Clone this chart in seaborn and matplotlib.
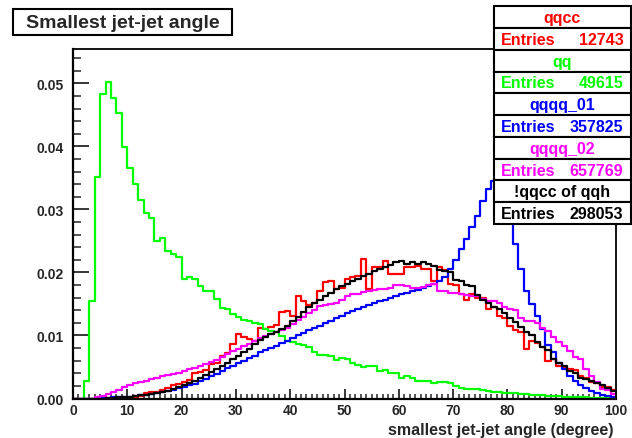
import numpy as np
import pandas as pd
import matplotlib
matplotlib.use("Agg")
import matplotlib.pyplot as plt
import seaborn as sns
from matplotlib.patches import Rectangle
from matplotlib.ticker import MultipleLocator, FormatStrFormatter

# ---------------- data ----------------
bin_edges = list(range(0, 101))

qqcc = [0,0,0,0,0,0,0,0,0,0,
 0,0.0002,0.0004,0.0008,0.0010,0.0010,0.0014,0.0016,0.0022,0.0023,
 0.0026,0.0030,0.0040,0.0042,0.0045,0.0055,0.0056,0.0068,0.0072,0.0086,
 0.0102,0.0097,0.0094,0.0092,0.0112,0.0110,0.0113,0.0116,0.0137,0.0139,
 0.0131,0.0163,0.0155,0.0149,0.0152,0.0171,0.0185,0.0186,0.0173,0.0176,
 0.0189,0.0192,0.0194,0.0222,0.0173,0.0208,0.0208,0.0218,0.0197,0.0197,
 0.0197,0.0208,0.0208,0.0210,0.0206,0.0206,0.0186,0.0208,0.0204,0.0181,
 0.0180,0.0165,0.0157,0.0165,0.0160,0.0160,0.0142,0.0145,0.0131,0.0128,
 0.0115,0.0108,0.0105,0.0079,0.0092,0.0088,0.0082,0.0060,0.0063,0.0052,
 0.0050,0.0047,0.0046,0.0036,0.0033,0.0026,0.0025,0.0018,0.0018,0.0013]

qq = [0,0,0.0027,0.0154,0.0351,0.0483,0.0502,0.0477,0.0453,0.0399,
 0.0366,0.0341,0.0315,0.0295,0.0287,0.0250,0.0254,0.0234,0.0229,0.0224,
 0.0189,0.0192,0.0189,0.0179,0.0170,0.0170,0.0158,0.0144,0.0142,0.0134,
 0.0129,0.0125,0.0123,0.0120,0.0118,0.0110,0.0107,0.0106,0.0099,0.0092,
 0.0090,0.0087,0.0085,0.0081,0.0073,0.0069,0.0069,0.0068,0.0061,0.0065,
 0.0063,0.0057,0.0053,0.0050,0.0052,0.0052,0.0044,0.0046,0.0041,0.0040,
 0.0032,0.0035,0.0032,0.0028,0.0028,0.0027,0.0025,0.0026,0.0026,0.0024,
 0.0020,0.0017,0.0015,0.0015,0.0015,0.0013,0.0012,0.0010,0.0010,0.0009,
 0.0008,0.0008,0.0007,0.0007,0.0006,0.0005,0.0005,0.0004,0.0004,0.0004,
 0.0003,0.0003,0.0002,0.0002,0.0002,0.0001,0.0001,0.0001,0.0001,0.0001]

qqqq_01 = [0,0,0,0,0,0.0001,0.0001,0.0002,0.0002,0.0003,
 0.0003,0.0004,0.0005,0.0006,0.0007,0.0009,0.0010,0.0012,0.0014,0.0017,
 0.0019,0.0021,0.0023,0.0027,0.0031,0.0035,0.0039,0.0044,0.0048,0.0052,
 0.0056,0.0060,0.0064,0.0068,0.0073,0.0077,0.0080,0.0084,0.0088,0.0092,
 0.0096,0.0100,0.0104,0.0108,0.0112,0.0115,0.0119,0.0123,0.0127,0.0131,
 0.0135,0.0139,0.0142,0.0145,0.0148,0.0151,0.0154,0.0157,0.0160,0.0162,
 0.0165,0.0167,0.0170,0.0172,0.0175,0.0178,0.0181,0.0186,0.0193,0.0205,
 0.0220,0.0237,0.0253,0.0272,0.0290,0.0313,0.0333,0.0345,0.0360,0.0365,
 0.0330,0.0245,0.0205,0.0170,0.0150,0.0131,0.0110,0.0085,0.0073,0.0057,
 0.0047,0.0036,0.0027,0.0021,0.0016,0.0012,0.0009,0.0006,0.0004,0.0003]

qqqq_02 = [0,0,0,0,0.0002,0.0004,0.0007,0.0010,0.0013,0.0018,
 0.0022,0.0024,0.0026,0.0028,0.0031,0.0033,0.0035,0.0037,0.0039,0.0041,
 0.0044,0.0047,0.0049,0.0052,0.0055,0.0058,0.0061,0.0066,0.0071,0.0075,
 0.0079,0.0083,0.0087,0.0091,0.0096,0.0099,0.0102,0.0105,0.0108,0.0112,
 0.0118,0.0124,0.0130,0.0136,0.0141,0.0146,0.0148,0.0150,0.0152,0.0157,
 0.0162,0.0166,0.0166,0.0169,0.0171,0.0172,0.0173,0.0173,0.0176,0.0180,
 0.0180,0.0178,0.0176,0.0176,0.0177,0.0180,0.0181,0.0171,0.0171,0.0168,
 0.0168,0.0166,0.0164,0.0163,0.0162,0.0158,0.0155,0.0155,0.0152,0.0145,
 0.0142,0.0140,0.0128,0.0123,0.0123,0.0120,0.0112,0.0107,0.0097,0.0090,
 0.0083,0.0075,0.0066,0.0062,0.0047,0.0036,0.0026,0.0015,0.0013,0.0007]

not_qqcc_of_qqh = [0,0,0,0,0,0,0.0001,0.0001,0.0002,0.0002,
 0.0003,0.0004,0.0005,0.0006,0.0007,0.0009,0.0010,0.0012,0.0015,0.0018,
 0.0021,0.0024,0.0028,0.0032,0.0037,0.0042,0.0047,0.0052,0.0057,0.0062,
 0.0068,0.0073,0.0079,0.0086,0.0093,0.0098,0.0102,0.0106,0.0110,0.0115,
 0.0123,0.0130,0.0137,0.0145,0.0152,0.0157,0.0162,0.0168,0.0173,0.0178,
 0.0182,0.0186,0.0190,0.0194,0.0198,0.0202,0.0205,0.0209,0.0212,0.0216,
 0.0218,0.0214,0.0216,0.0214,0.0216,0.0214,0.0210,0.0204,0.0202,0.0200,
 0.0188,0.0186,0.0180,0.0178,0.0164,0.0157,0.0152,0.0145,0.0142,0.0136,
 0.0128,0.0121,0.0113,0.0105,0.0100,0.0090,0.0082,0.0077,0.0063,0.0056,
 0.0052,0.0044,0.0040,0.0033,0.0031,0.0027,0.0024,0.0021,0.0016,0.0012]

series_names = ["qqcc", "qq", "qqqq_01", "qqqq_02", "!qqcc of qqh"]
series_entries = [12743, 49615, 357825, 657769, 298053]
series_values = [qqcc, qq, qqqq_01, qqqq_02, not_qqcc_of_qqh]
series_colors = ["#ff0000", "#00ff00", "#0000ff", "#ff00ff", "#000000"]

title_text = "Smallest jet-jet angle"
x_label = "smallest jet-jet angle (degree)"

# ---------------- style ----------------
sns.set_style("white")
plt.rcParams["font.family"] = ["Liberation Sans", "DejaVu Sans"]
plt.rcParams["font.weight"] = "bold"

W, H = 632, 439
fig = plt.figure(figsize=(W / 100, H / 100), dpi=100)
fig.patch.set_facecolor("white")

def fx(px):
    return px / W

def fy(py):
    return 1 - py / H

ax_l, ax_r, ax_t, ax_b = 73, 616, 50, 399.5
ax = fig.add_axes([fx(ax_l), fy(ax_b), (ax_r - ax_l) / W, (ax_b - ax_t) / H])
ax.set_facecolor("white")

edges = np.array(bin_edges, dtype=float)
centers = edges[:-1] + np.diff(edges) / 2
bw = float(edges[1] - edges[0])
brange = (float(edges[0]), float(edges[-1]))

for vals, col in zip(series_values, series_colors):
    df = pd.DataFrame({"angle": centers, "w": np.asarray(vals, dtype=float)})
    sns.histplot(data=df, x="angle", weights="w", binwidth=bw, binrange=brange,
                 element="step", fill=False, color=col, linewidth=1.6, ax=ax)

ax.set_xlim(0, 100)
ax.set_ylim(0, 0.05544)
ax.set_xlabel("")
ax.set_ylabel("")

ax.xaxis.set_major_locator(MultipleLocator(10))
ax.xaxis.set_minor_locator(MultipleLocator(1))
ax.yaxis.set_major_locator(MultipleLocator(0.01))
ax.yaxis.set_minor_locator(MultipleLocator(0.002))
ax.yaxis.set_major_formatter(FormatStrFormatter("%.2f"))
ax.xaxis.set_major_formatter(FormatStrFormatter("%d"))

ax.tick_params(axis="y", which="major", direction="in", length=11.5, width=1.3,
               labelsize=10, pad=7, left=True, right=False)
ax.tick_params(axis="y", which="minor", direction="in", length=6, width=1.1,
               left=True, right=False)
ax.tick_params(axis="x", which="major", direction="in", length=7.5, width=1.3,
               labelsize=10, pad=3, bottom=True, top=False)
ax.tick_params(axis="x", which="minor", direction="in", length=3.8, width=1.1,
               bottom=True, top=False)
for lab in ax.get_xticklabels() + ax.get_yticklabels():
    lab.set_fontweight("bold")

for s in ax.spines.values():
    s.set_visible(True)
    s.set_color("black")
ax.spines["left"].set_linewidth(1.6)
ax.spines["bottom"].set_linewidth(1.6)
ax.spines["top"].set_linewidth(1.3)
ax.spines["right"].set_linewidth(1.3)

fig.text(fx(613), fy(431), x_label, ha="right", va="center",
         fontsize=11.5, fontweight="bold")

# ---------------- title box ----------------
tx0, tx1, ty0, ty1 = 13.3, 231.7, 10, 36
fig.add_artist(Rectangle((fx(tx0), fy(ty1)), (tx1 - tx0) / W, (ty1 - ty0) / H,
                         transform=fig.transFigure, facecolor="white",
                         edgecolor="black", linewidth=1.5, zorder=5))
fig.text(fx((tx0 + tx1) / 2), fy((ty0 + ty1) / 2 + 0.5), title_text,
         ha="center", va="center", fontsize=14, fontweight="bold", zorder=6)

# ---------------- stat boxes ----------------
bx0, bx1 = 494.5, 630.5
row_top = 7.3
row_h = 21.77
for i, (name, n, col) in enumerate(zip(series_names, series_entries, series_colors)):
    for j in range(2):
        y0 = row_top + (2 * i + j) * row_h
        fig.add_artist(Rectangle((fx(bx0), fy(y0 + row_h)), (bx1 - bx0) / W, row_h / H,
                                 transform=fig.transFigure, facecolor="white",
                                 edgecolor="black", linewidth=1.5, zorder=5))
        yc = fy(y0 + row_h / 2 + 0.5)
        if j == 0:
            fig.text(fx((bx0 + bx1) / 2), yc, name, ha="center", va="center",
                     color=col, fontsize=11.5, fontweight="bold", zorder=6)
        else:
            fig.text(fx(bx0 + 6), yc, "Entries", ha="left", va="center",
                     color=col, fontsize=11.5, fontweight="bold", zorder=6)
            fig.text(fx(bx1 - 7), yc, str(n), ha="right", va="center",
                     color=col, fontsize=11.5, fontweight="bold", zorder=6)

fig.savefig("out.png", dpi=100, facecolor="white")
